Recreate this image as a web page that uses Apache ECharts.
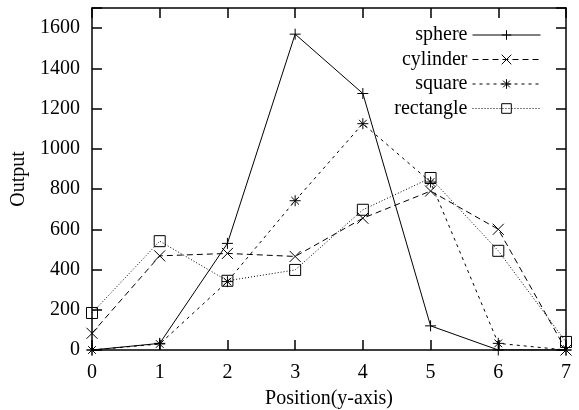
<!DOCTYPE html>
<html>
<head>
<meta charset="utf-8">
<script src="https://cdn.jsdelivr.net/npm/echarts@6/dist/echarts.min.js"></script>
<style>
  html, body { margin: 0; padding: 0; background: #fff; }
  #chart { width: 579px; height: 410px; }
</style>
</head>
<body>
<div id="chart"></div>
<script>
// 数据
const positions = [0, 1, 2, 3, 4, 5, 6, 7]
const sphere = [0, 33, 530, 1570, 1275, 120, 0, 0]
const cylinder = [83, 468, 480, 465, 655, 790, 600, 0]
const square = [0, 30, 340, 742, 1125, 835, 33, 0]
const rectangle = [184, 541, 344, 398, 697, 855, 493, 40]
const yTicks = [0, 200, 400, 600, 800, 1000, 1200, 1400, 1600]

const FONT = 'Liberation Serif'

/* 标记符号 */
const SYM_PLUS = 'path://M0,5L10,5M5,0L5,10'
const SYM_CROSS = 'path://M0,0L10,10M0,10L10,0'
const SYM_STAR = 'path://M0,5L10,5M5,0L5,10M1.5,1.5L8.5,8.5M1.5,8.5L8.5,1.5'
const SYM_BOX = 'path://M0,0L10,0L10,10L0,10Z'

const frameLine = { onZero: false, lineStyle: { color: '#000', width: 1.5 } }
const frameTick = { show: true, inside: true, length: 10, lineStyle: { color: '#000', width: 1.5 } }

function pairs(ys) {
  return positions.map((x, i) => [x, ys[i]])
}

function makeSeries(name, ys, symbol, size, dash) {
  return {
    name: name,
    type: 'line',
    data: pairs(ys),
    symbol: symbol,
    symbolSize: size,
    lineStyle: { color: '#000', width: 1, type: dash },
    itemStyle: { color: 'transparent', borderColor: '#000', borderWidth: 1 },
    emphasis: { disabled: true }
  }
}

const chart = echarts.init(document.getElementById('chart'))
chart.setOption({
  animation: false,
  textStyle: { fontFamily: FONT, color: '#000' },
  grid: { left: 92, right: 13, top: 8, bottom: 60, containLabel: false, outerBoundsMode: 'none' },
  legend: {
    orient: 'vertical',
    right: 33,
    top: 20,
    align: 'right',
    itemWidth: 68,
    itemHeight: 12,
    itemGap: 4.5,
    lineStyle: { width: 1, color: '#000' },
    itemStyle: { borderWidth: 1, borderColor: '#000' },
    textStyle: { fontFamily: FONT, fontSize: 20, color: '#000' },
    data: ['sphere', 'cylinder', 'square', 'rectangle']
  },
  xAxis: [
    {
      type: 'value',
      min: 0,
      max: 7,
      interval: 1,
      name: 'Position(y-axis)',
      nameLocation: 'middle',
      nameGap: 39,
      nameTextStyle: { fontFamily: FONT, fontSize: 20, color: '#000' },
      axisLine: { show: true, ...frameLine },
      axisTick: frameTick,
      axisLabel: { fontFamily: FONT, fontSize: 20, color: '#000', margin: 13 },
      splitLine: { show: false }
    },
    {
      type: 'value',
      position: 'top',
      min: 0,
      max: 7,
      interval: 1,
      axisLine: { show: true, ...frameLine },
      axisTick: frameTick,
      axisLabel: { show: false },
      splitLine: { show: false }
    }
  ],
  yAxis: [
    {
      type: 'value',
      min: 0,
      max: 1700,
      interval: 200,
      name: 'Output',
      nameLocation: 'middle',
      nameGap: 56,
      nameTextStyle: { fontFamily: FONT, fontSize: 20, color: '#000' },
      axisLine: { show: true, ...frameLine },
      axisTick: frameTick,
      axisLabel: {
        fontFamily: FONT,
        fontSize: 20,
        color: '#000',
        margin: 12,
        formatter: v => (yTicks.indexOf(v) >= 0 ? String(v) : '')
      },
      splitLine: { show: false }
    },
    {
      type: 'value',
      position: 'right',
      min: 0,
      max: 1700,
      interval: 200,
      axisLine: { show: true, ...frameLine },
      axisTick: frameTick,
      axisLabel: { show: false },
      splitLine: { show: false }
    }
  ],
  series: [
    makeSeries('sphere', sphere, SYM_PLUS, 11, 'solid'),
    makeSeries('cylinder', cylinder, SYM_CROSS, 11, [6, 4]),
    makeSeries('square', square, SYM_STAR, 11, [3, 4]),
    makeSeries('rectangle', rectangle, SYM_BOX, 11, [1, 2])
  ]
})
</script>
</body>
</html>
